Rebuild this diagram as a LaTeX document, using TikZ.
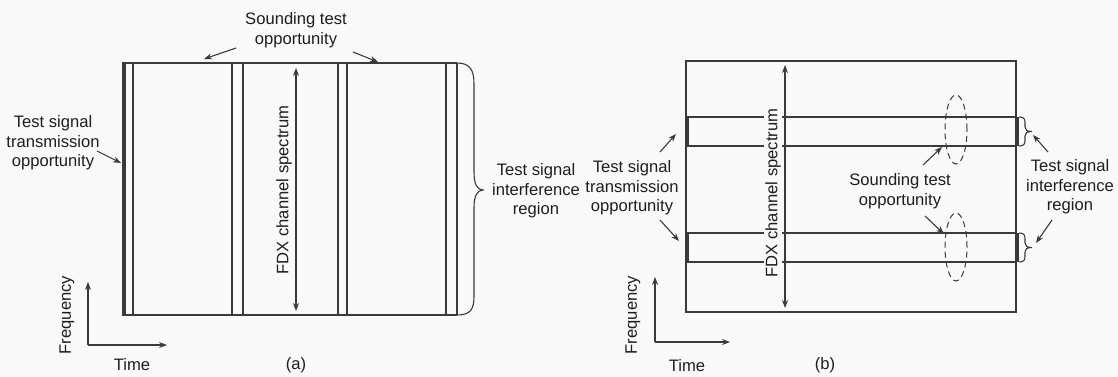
\documentclass[tikz,border=0pt]{standalone}
\usepackage{fontspec}
\setmainfont{Liberation Sans}
\usetikzlibrary{arrows.meta}
\definecolor{ink}{HTML}{3A3A3A}
\definecolor{txt}{HTML}{1E1E1E}
\definecolor{paper}{HTML}{F9F9F9}
\begin{document}
\begin{tikzpicture}[x=1pt,y=-1pt,
  lbl/.style={font=\fontsize{16.6}{19.5}\selectfont, text=txt, align=center, inner sep=0pt},
  frame/.style={draw=ink, line width=2.6pt},
  edge/.style={draw=ink, line width=3.8pt},
  pointer/.style={draw=ink, line width=1.1pt, -{Stealth[length=8pt,width=6pt]}},
  span/.style={draw=ink, line width=1.1pt, {Stealth[length=8pt,width=6pt]}-{Stealth[length=8pt,width=6pt]}},
  curly/.style={draw=ink, line width=1.1pt},
  ring/.style={draw=ink, line width=1pt, dash pattern=on 6pt off 4pt},
]
\fill[paper] (0,0) rectangle (1118,377);

% ---------------- (a) time-domain slots ----------------
\draw[frame] (124,63) -- (457,63);
\draw[frame] (124,315) -- (457,315);
\draw[edge] (124,61.7) -- (124,316.3);
\foreach \x in {133,232,243,338,347,446,457}
  \draw[frame] (\x,63) -- (\x,315);

% interference brace on the right
\draw[curly] (457,63) .. controls (470,63) and (474,70) .. (474,84)
  -- (474,172) .. controls (474,184) and (477,190) .. (483,190)
  .. controls (477,190) and (474,196) .. (474,208)
  -- (474,296) .. controls (474,310) and (470,315) .. (457,315);

% spectrum span
\coordinate (fdxAtop) at (296,68);
\coordinate (fdxAbot) at (296,311);
\draw[span] (fdxAbot) -- (fdxAtop);
\node[lbl, rotate=90] (fdxA) at (284,190) {FDX channel spectrum};

% labels
\node[lbl] (soundA) at (296,30) {Sounding test\\opportunity};
\coordinate (soundAl) at (204,59);
\coordinate (soundAr) at (378,62);
\draw[pointer] (236,48) -- (soundAl);
\draw[pointer] (353,52) -- (soundAr);

\node[lbl] (txA) at (53,143) {Test signal\\transmission\\opportunity};
\coordinate (txAtip) at (121,163);
\draw[pointer] (97,151) -- (txAtip);

\node[lbl] (intA) at (536,191) {Test signal\\interference\\region};

% axes
\coordinate (oA) at (88,345);
\coordinate (fA) at (88,282);
\coordinate (tA) at (167,345);
\draw[pointer] (oA) -- (fA);
\draw[pointer] (oA) -- (tA);
\node[lbl, rotate=90] (freqA) at (67,315) {Frequency};
\node[lbl] (timeA) at (132,365) {Time};
\node[lbl] (capA) at (296,365) {(a)};

% ---------------- (b) frequency-domain bands ----------------
\draw[frame] (686,61) rectangle (1016,312);
\foreach \y in {117,146,233,262}
  \draw[frame] (686,\y) -- (1016,\y);
\foreach \ya/\yb in {117/146,233/262}{
  \draw[draw=ink, line width=4.5pt] (687,\ya) -- (687,\yb);
  \draw[draw=ink, line width=4.5pt] (1017,\ya) -- (1017,\yb);
}

% small braces marking interference
\draw[curly] (1019,117) .. controls (1024,117) and (1025,119) .. (1025,123)
  -- (1025,127) .. controls (1025,130) and (1027,131.5) .. (1032,131.5)
  .. controls (1027,131.5) and (1025,133) .. (1025,136)
  -- (1025,140) .. controls (1025,144) and (1024,146) .. (1019,146);
\draw[curly] (1019,233) .. controls (1024,233) and (1025,235) .. (1025,239)
  -- (1025,243) .. controls (1025,246) and (1027,247.5) .. (1032,247.5)
  .. controls (1027,247.5) and (1025,249) .. (1025,252)
  -- (1025,256) .. controls (1025,260) and (1024,262) .. (1019,262);

% sounding regions
\draw[ring] (956,129.5) ellipse [x radius=11pt, y radius=34.5pt];
\draw[ring] (956,247) ellipse [x radius=11pt, y radius=34pt];

% spectrum span
\coordinate (fdxBtop) at (785,65);
\coordinate (fdxBbot) at (785,308);
\draw[span] (fdxBbot) -- (fdxBtop);
\node[lbl, rotate=90, fill=paper, inner sep=1.5pt] (fdxB) at (773,193) {FDX channel spectrum};

% labels
\node[lbl] (txB) at (632,188) {Test signal\\transmission\\opportunity};
\coordinate (txBup) at (676,134);
\coordinate (txBdn) at (679,241);
\draw[pointer] (660,152) -- (txBup);
\draw[pointer] (660,220) -- (txBdn);

\node[lbl] (soundB) at (900,191) {Sounding test\\opportunity};
\coordinate (soundBup) at (942,147);
\coordinate (soundBdn) at (944,234);
\draw[pointer] (923,165) -- (soundBup);
\draw[pointer] (925,216) -- (soundBdn);

\node[lbl] (intB) at (1070,187) {Test signal\\interference\\region};
\coordinate (intBup) at (1033,135);
\coordinate (intBdn) at (1036,243);
\draw[pointer] (1048,152) -- (intBup);
\draw[pointer] (1052,220) -- (intBdn);

% axes
\coordinate (oB) at (655,342);
\coordinate (fB) at (655,277);
\coordinate (tB) at (730,342);
\draw[pointer] (oB) -- (fB);
\draw[pointer] (oB) -- (tB);
\node[lbl, rotate=90] (freqB) at (633,315) {Frequency};
\node[lbl] (timeB) at (687,366) {Time};
\node[lbl] (capB) at (825,365) {(b)};
\end{tikzpicture}
\end{document}
